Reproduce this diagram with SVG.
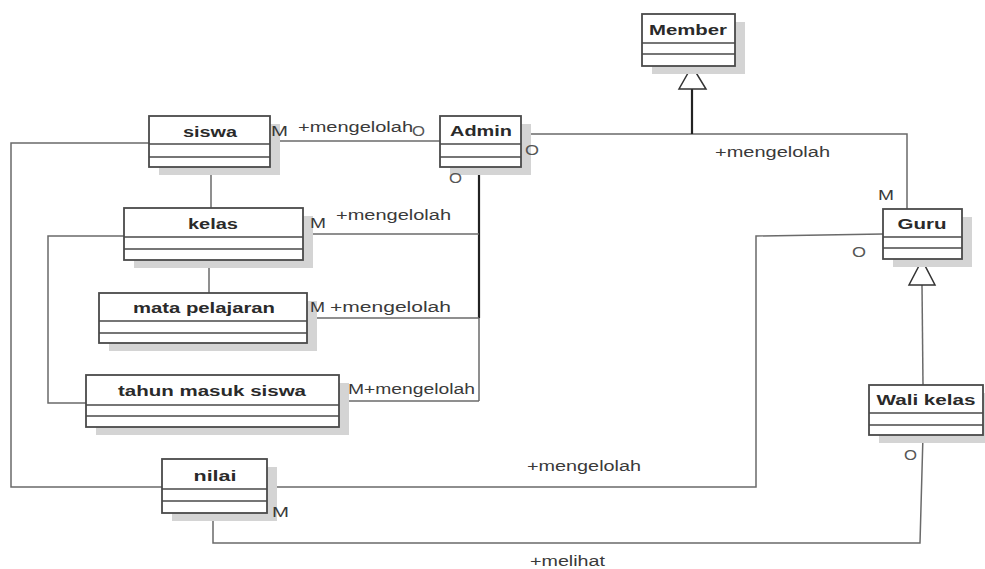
<svg xmlns="http://www.w3.org/2000/svg" width="985" height="569" viewBox="0 0 985 569">
<style>
.sh{fill:#d4d4d4;stroke:none}
.bx{fill:#fff;stroke:#4a4a4a;stroke-width:1.8}
.dv{stroke:#4a4a4a;stroke-width:1.5}
.nm{font-family:"Liberation Sans",Arial,sans-serif;font-weight:bold;font-size:14px;fill:#2a2a2a;text-anchor:middle}
.lb{font-family:"Liberation Sans",Arial,sans-serif;font-size:14px;fill:#3a3a3a}
.o{font-family:"Liberation Sans",Arial,sans-serif;font-size:14px;fill:#555}
.ln{fill:none;stroke:#6a6a6a;stroke-width:1.5}
.tk{fill:none;stroke:#222;stroke-width:2.2}
.tri{fill:#fff;stroke:#333;stroke-width:1.5}
</style>
<rect width="985" height="569" fill="#fff"/>
<g id="connectors">
<path class="ln" d="M270,141 L440,141"/>
<path class="ln" d="M149,143 L11,143 L11,487 L162,487"/>
<path class="ln" d="M211,167 L211,208"/>
<path class="ln" d="M209,260 L209,293"/>
<path class="ln" d="M124,236 L48,236 L48,403 L86,403"/>
<path class="tk" d="M479,167 L479,318"/>
<path class="ln" d="M479,318 L479,401"/>
<path class="ln" d="M303,234 L479,234"/>
<path class="ln" d="M307,318 L479,318"/>
<path class="ln" d="M339,401 L479,401"/>
<path class="ln" d="M521,134 L907,134 L907,209"/>
<path class="tk" d="M692,134 L692,89"/>
<polygon class="tri" points="692,66 679,89 706,89"/>
<path class="ln" d="M883,234 L756,236 L756,487 L267,487"/>
<path class="ln" d="M923,385 L922,285"/>
<polygon class="tri" points="922,260 909,285 935,285"/>
<path class="ln" d="M923,435 L920,543 L213,543 L213,513"/>
</g>
<g id="siswa">
<rect class="sh" x="159" y="124" width="121" height="51"/>
<rect class="bx" x="149" y="116" width="121" height="51"/>
<path class="dv" d="M149,144 H270 M149,157 H270"/>
<text class="nm" x="210" y="137" textLength="54" lengthAdjust="spacingAndGlyphs">siswa</text>
</g>
<g id="kelas">
<rect class="sh" x="134" y="216" width="179" height="52"/>
<rect class="bx" x="124" y="208" width="179" height="52"/>
<path class="dv" d="M124,237 H303 M124,249 H303"/>
<text class="nm" x="213" y="229" textLength="50" lengthAdjust="spacingAndGlyphs">kelas</text>
</g>
<g id="mata-pelajaran">
<rect class="sh" x="109" y="301" width="208" height="50"/>
<rect class="bx" x="99" y="293" width="208" height="50"/>
<path class="dv" d="M99,321 H307 M99,333 H307"/>
<text class="nm" x="204" y="313" textLength="142" lengthAdjust="spacingAndGlyphs">mata pelajaran</text>
</g>
<g id="tahun-masuk-siswa">
<rect class="sh" x="96" y="383" width="253" height="52"/>
<rect class="bx" x="86" y="375" width="253" height="52"/>
<path class="dv" d="M86,405 H339 M86,416 H339"/>
<text class="nm" x="212" y="396" textLength="188" lengthAdjust="spacingAndGlyphs">tahun masuk siswa</text>
</g>
<g id="admin">
<rect class="sh" x="450" y="124" width="81" height="51"/>
<rect class="bx" x="440" y="116" width="81" height="51"/>
<path class="dv" d="M440,144 H521 M440,157 H521"/>
<text class="nm" x="481" y="136" textLength="62" lengthAdjust="spacingAndGlyphs">Admin</text>
</g>
<g id="member">
<rect class="sh" x="652" y="22" width="93" height="52"/>
<rect class="bx" x="642" y="14" width="93" height="52"/>
<path class="dv" d="M642,43 H735 M642,54 H735"/>
<text class="nm" x="688" y="35" textLength="78" lengthAdjust="spacingAndGlyphs">Member</text>
</g>
<g id="guru">
<rect class="sh" x="893" y="217" width="79" height="50"/>
<rect class="bx" x="883" y="209" width="79" height="50"/>
<path class="dv" d="M883,237 H962 M883,248 H962"/>
<text class="nm" x="922" y="229" textLength="49" lengthAdjust="spacingAndGlyphs">Guru</text>
</g>
<g id="wali-kelas">
<rect class="sh" x="879" y="393" width="114" height="50"/>
<rect class="bx" x="869" y="385" width="114" height="50"/>
<path class="dv" d="M869,413 H983 M869,425 H983"/>
<text class="nm" x="926" y="405" textLength="99" lengthAdjust="spacingAndGlyphs">Wali kelas</text>
</g>
<g id="nilai">
<rect class="sh" x="172" y="467" width="105" height="54"/>
<rect class="bx" x="162" y="459" width="105" height="54"/>
<path class="dv" d="M162,489 H267 M162,501 H267"/>
<text class="nm" x="215" y="481" textLength="43" lengthAdjust="spacingAndGlyphs">nilai</text>
</g>
<g id="labels">
<text class="lb" x="271" y="136" textLength="17" lengthAdjust="spacingAndGlyphs">M</text>
<text class="lb" x="298" y="132" textLength="115" lengthAdjust="spacingAndGlyphs">+mengelolah</text>
<text class="o" x="412" y="136" textLength="13" lengthAdjust="spacingAndGlyphs">O</text>
<text class="o" x="525" y="155" textLength="14" lengthAdjust="spacingAndGlyphs">O</text>
<text class="o" x="449" y="183" textLength="13" lengthAdjust="spacingAndGlyphs">O</text>
<text class="lb" x="310" y="228" textLength="16" lengthAdjust="spacingAndGlyphs">M</text>
<text class="lb" x="336" y="220" textLength="115" lengthAdjust="spacingAndGlyphs">+mengelolah</text>
<text class="lb" x="310" y="312" textLength="15" lengthAdjust="spacingAndGlyphs">M</text>
<text class="lb" x="330" y="312" textLength="121" lengthAdjust="spacingAndGlyphs">+mengelolah</text>
<text class="lb" x="348" y="394" textLength="127" lengthAdjust="spacingAndGlyphs">M+mengelolah</text>
<text class="lb" x="715" y="157" textLength="115" lengthAdjust="spacingAndGlyphs">+mengelolah</text>
<text class="lb" x="878" y="200" textLength="16" lengthAdjust="spacingAndGlyphs">M</text>
<text class="o" x="852" y="257" textLength="14" lengthAdjust="spacingAndGlyphs">O</text>
<text class="o" x="904" y="460" textLength="13" lengthAdjust="spacingAndGlyphs">O</text>
<text class="lb" x="527" y="471" textLength="114" lengthAdjust="spacingAndGlyphs">+mengelolah</text>
<text class="lb" x="272" y="517" textLength="17" lengthAdjust="spacingAndGlyphs">M</text>
<text class="lb" x="530" y="566" textLength="75" lengthAdjust="spacingAndGlyphs">+melihat</text>
</g>
</svg>
